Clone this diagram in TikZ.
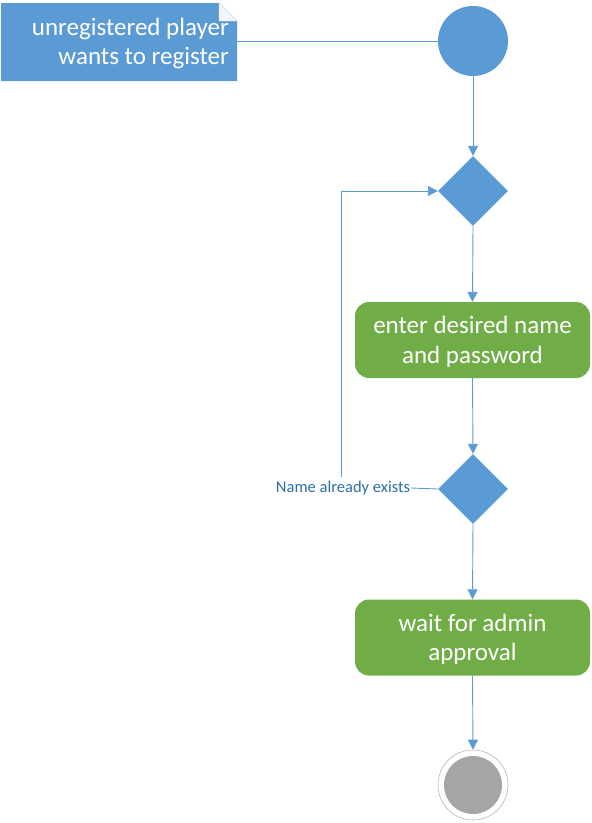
\documentclass[tikz,border=0pt]{standalone}
\usepackage{fontspec}
\setmainfont{Carlito}
\usetikzlibrary{shapes.geometric,arrows.meta}
\definecolor{ublue}{HTML}{5B9BD5}
\definecolor{lblue}{HTML}{5B9BD5}
\definecolor{ugreen}{HTML}{70AD47}
\definecolor{ugray}{HTML}{A5A5A5}
\definecolor{labblue}{HTML}{2E6EA6}
\begin{document}
\begin{tikzpicture}[x=1pt,y=-1pt,
  flow/.style={draw=lblue,line width=0.9pt,-{Triangle[length=10pt,width=10pt]}},
  plain/.style={draw=lblue,line width=0.9pt},
  act/.style={rectangle,rounded corners=14pt,fill=ugreen,text=white,minimum width=235pt,minimum height=76pt,align=center,font=\fontsize{25}{29.5}\selectfont,inner sep=0pt},
  acttext/.style={text=white,align=center,font=\fontsize{25}{29.5}\selectfont,inner sep=0pt},
  dec/.style={diamond,fill=ublue,minimum width=70pt,minimum height=70pt,inner sep=0pt},
  startnode/.style={circle,fill=ublue,minimum size=70pt,inner sep=0pt}]
\useasboundingbox (0,0) rectangle (592,823);
% note with folded corner
\fill[ublue] (1,3) -- (219,3) -- (237,21) -- (237,81) -- (1,81) -- cycle;
\filldraw[fill=white!92!ublue,draw=white!70!ublue,line width=0.4pt] (219,3) -- (219,21) -- (237,21) -- cycle;
\node[anchor=east,align=right,text=white,font=\fontsize{25}{29.5}\selectfont,inner sep=0pt] (note) at (229,43.5) {unregistered player\\wants to register};
\coordinate (noteR) at (237,41);
\node[startnode] (start) at (473,41) {};
\node[dec] (d1) at (473,191) {};
\node[act] (a1) at (472.5,340) {};
\node[acttext] (a1t) at (472.5,342) {enter desired name\\and password};
\node[dec] (d2) at (473,489) {};
\node[act] (a2) at (472.5,637.5) {};
\node[acttext] (a2t) at (472.5,639.5) {wait for admin\\approval};
\node[circle,draw=ugray!80,line width=0.6pt,minimum size=70pt,inner sep=0pt] (fin) at (473,785) {};
\node[circle,fill=ugray,minimum size=58pt,inner sep=0pt] (finin) at (473,785) {};
\node[text=labblue,font=\fontsize{16.5}{19}\selectfont,inner sep=1pt] (lbl) at (343,488) {Name already exists};
\coordinate (loopc) at (341,477);
\draw[plain] (noteR) -- (start.west);
\draw[flow] (start.south) -- (d1.north);
\draw[flow] (d1.south) -- (a1.north);
\draw[flow] (a1.south) -- (d2.north);
\draw[plain] (d2.west) -- (lbl.east);
\draw[flow] (loopc) |- (d1.west);
\draw[flow] (d2.south) -- (a2.north);
\draw[flow] (a2.south) -- (fin.north);
\end{tikzpicture}
\end{document}
